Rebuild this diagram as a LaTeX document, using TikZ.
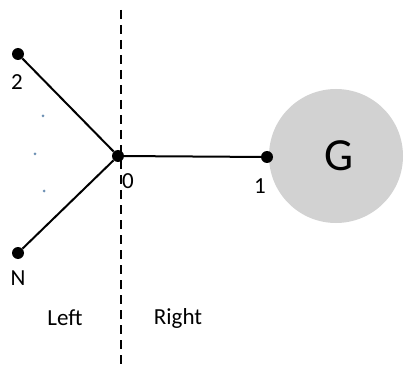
\documentclass[tikz,border=0pt]{standalone}
\usepackage{fontspec}
\setmainfont{Carlito}
\definecolor{dotblue}{RGB}{110,145,180}
\begin{document}
\begin{tikzpicture}[x=1pt,y=-1pt,
  vtx/.style={circle,fill=black,inner sep=0pt,minimum size=12pt},
  tiny/.style={circle,fill=dotblue,inner sep=0pt,minimum size=3pt},
  lbl/.style={font=\fontsize{23}{27}\selectfont,inner sep=0pt},
  edge/.style={line width=2pt}]
\useasboundingbox (0,0) rectangle (405,369);
\fill[gray!35] (336,156) circle (67);
\node[font=\fontsize{46}{52}\selectfont] (G) at (339,156) {G};
\coordinate (top) at (121,10);
\coordinate (bot) at (121,369);
\draw[line width=2.6pt,dash pattern=on 9pt off 6pt] (top) -- (bot);
\node[vtx] (v2) at (18,54) {};
\node[vtx] (v0) at (118,156) {};
\node[vtx] (vN) at (18,253) {};
\node[vtx] (v1) at (267,157) {};
\draw[edge] (v2) -- (v0);
\draw[edge] (vN) -- (v0);
\draw[edge] (v0) -- (v1);
\node[tiny] (d1) at (43,116) {};
\node[tiny] (d2) at (35,154) {};
\node[tiny] (d3) at (44,191) {};
\node[lbl] (l2) at (17,82) {2};
\node[lbl] (l0) at (128,181) {0};
\node[lbl] (lN) at (18,278) {N};
\node[lbl] (l1) at (260,186) {1};
\node[lbl] (left) at (65,318) {Left};
\node[lbl] (right) at (178,318) {Right};
\end{tikzpicture}
\end{document}
